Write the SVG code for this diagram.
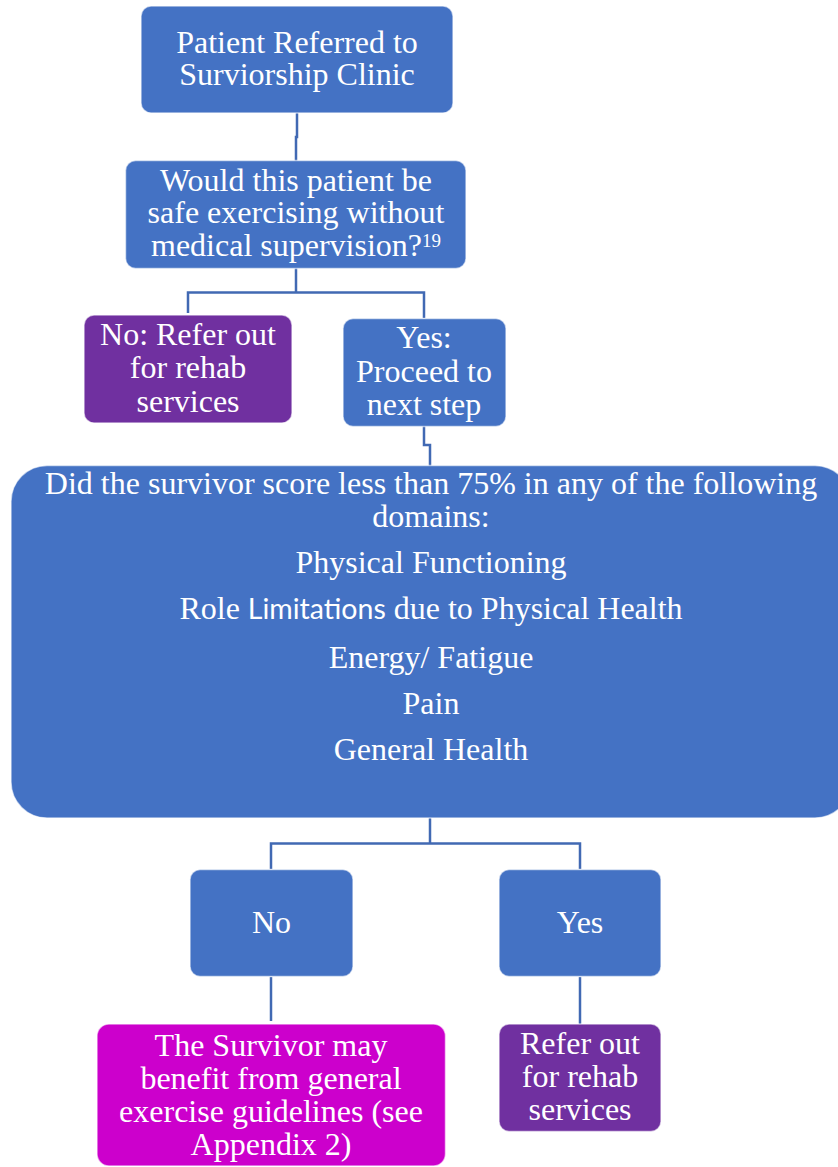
<svg xmlns="http://www.w3.org/2000/svg" width="838" height="1167" viewBox="0 0 838 1167">
<style>
.box{stroke:#ffffff;stroke-width:1.5;stroke-opacity:0.6}
.blue{fill:#4472C4}
.purple{fill:#7030A0}
.magenta{fill:#CC00CC}
.t{font-family:"Liberation Serif","Times New Roman",serif;font-size:32px;fill:#ffffff;text-anchor:middle}
.conn{fill:none;stroke:#4169B3;stroke-width:2.5}
</style>
<rect width="838" height="1167" fill="#ffffff"/>
<g id="connectors">
<polyline class="conn" points="297,113 297,137 296,137 296,161"/>
<polyline class="conn" points="296,268 296,292.5"/>
<polyline class="conn" points="188,313 188,292.5 424,292.5 424,318"/>
<polyline class="conn" points="424,426 424,445 430,445 430,466"/>
<polyline class="conn" points="430,818 430,843.5"/>
<polyline class="conn" points="271,869 271,843.5 580,843.5 580,869"/>
<polyline class="conn" points="271,977 271,1021"/>
<polyline class="conn" points="580,977 580,1024"/>
</g>
<g id="n1">
<rect class="box blue" x="141" y="6" width="312" height="107" rx="10"/>
<text class="t"><tspan x="297" y="53">Patient Referred to</tspan><tspan x="297" y="85">Surviorship Clinic</tspan></text>
</g>
<g id="n2">
<rect class="box blue" x="125.5" y="160.5" width="340.5" height="108" rx="10"/>
<text class="t"><tspan x="296" y="191">Would this patient be</tspan><tspan x="296" y="223">safe exercising without</tspan><tspan x="296" y="256">medical supervision?<tspan font-size="19" dy="-9">19</tspan></tspan></text>
</g>
<g id="n3">
<rect class="box purple" x="84" y="315" width="208" height="108" rx="10"/>
<text class="t"><tspan x="188" y="345">No: Refer out</tspan><tspan x="188" y="378">for rehab</tspan><tspan x="188" y="411.5">services</tspan></text>
</g>
<g id="n4">
<rect class="box blue" x="343" y="318.5" width="163" height="108" rx="10"/>
<text class="t"><tspan x="424" y="348">Yes:</tspan><tspan x="424" y="381.5">Proceed to</tspan><tspan x="424" y="415">next step</tspan></text>
</g>
<g id="n5">
<rect class="box blue" x="11" y="465.5" width="840" height="352.5" rx="36"/>
<text class="t"><tspan x="431" y="494">Did the survivor score less than 75% in any of the following</tspan><tspan x="431" y="526.5">domains:</tspan></text>
<text class="t" x="431" y="573">Physical Functioning</text>
<text class="t" x="431" y="619">Role <tspan font-family="Lato,'Open Sans',sans-serif" font-size="28.5">Limitations</tspan> due to Physical Health</text>
<text class="t" x="431" y="668">Energy/ Fatigue</text>
<text class="t" x="431" y="714">Pain</text>
<text class="t" x="431" y="760">General Health</text>
</g>
<g id="n6">
<rect class="box blue" x="190" y="869.5" width="163" height="107" rx="10"/>
<text class="t" x="271.5" y="932.5">No</text>
</g>
<g id="n7">
<rect class="box blue" x="499" y="869.5" width="162" height="107" rx="10"/>
<text class="t" x="580" y="932.5">Yes</text>
</g>
<g id="n8">
<rect class="box magenta" x="97" y="1024" width="348.5" height="142" rx="12"/>
<text class="t"><tspan x="271" y="1056">The Survivor may</tspan><tspan x="271" y="1088.5">benefit from general</tspan><tspan x="271" y="1122">exercise guidelines (see</tspan><tspan x="271" y="1155">Appendix 2)</tspan></text>
</g>
<g id="n9">
<rect class="box purple" x="499" y="1024" width="162" height="107.5" rx="10"/>
<text class="t"><tspan x="580" y="1054">Refer out</tspan><tspan x="580" y="1086.5">for rehab</tspan><tspan x="580" y="1120">services</tspan></text>
</g>
</svg>
